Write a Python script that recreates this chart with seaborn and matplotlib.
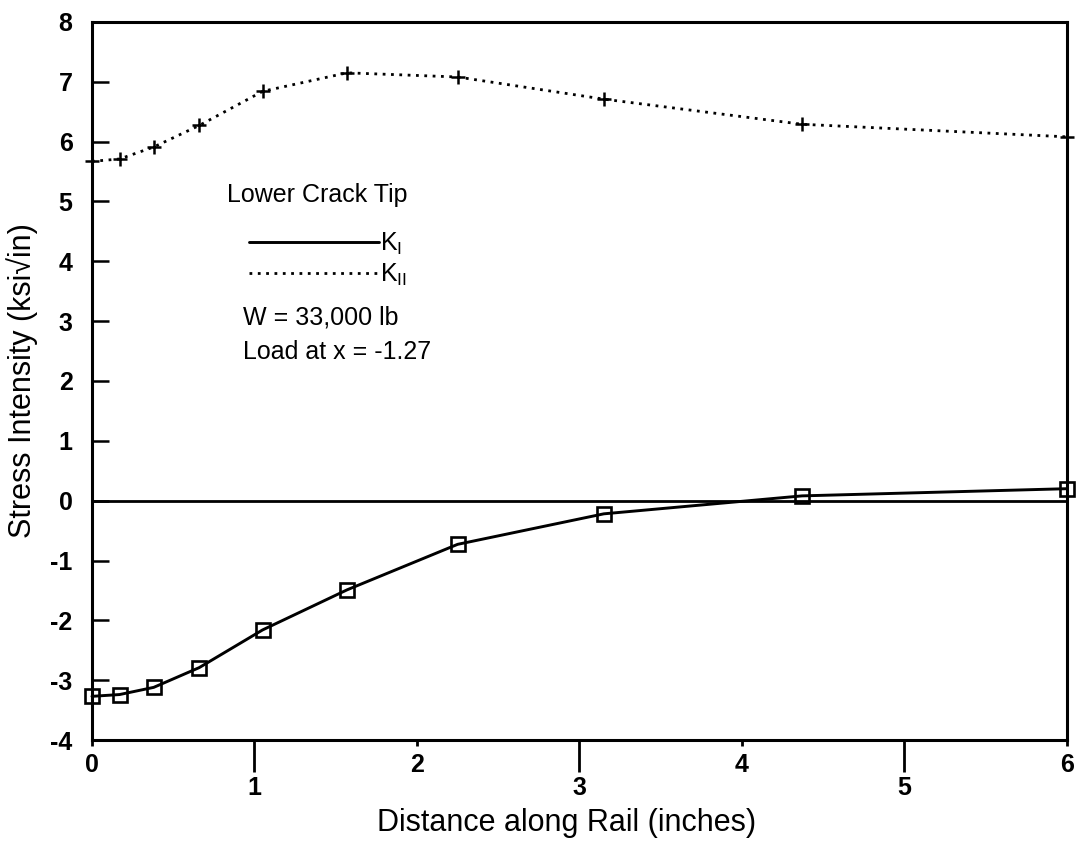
import seaborn as sns
import matplotlib.pyplot as plt
from matplotlib.lines import Line2D

# --- Data ---
distance = [0.0, 0.17, 0.38, 0.66, 1.05, 1.57, 2.25, 3.15, 4.37, 6.0]
k_one = [-3.27, -3.24, -3.12, -2.79, -2.16, -1.49, -0.73, -0.22, 0.08, 0.20]
k_two = [5.67, 5.71, 5.91, 6.27, 6.84, 7.15, 7.08, 6.71, 6.29, 6.08]
x_even_ticks = [0, 2, 4, 6]
x_odd_ticks = [1, 3, 5]
y_ticks = list(range(-4, 9))
legend_labels = [r'K$_\mathrm{I}$', r'K$_\mathrm{II}$']

# --- Global style ---
sns.set_theme(style="ticks")
plt.rcParams['font.family'] = ['Liberation Sans', 'DejaVu Sans']
plt.rcParams['mathtext.fontset'] = 'custom'
plt.rcParams['mathtext.rm'] = 'Liberation Sans'
plt.rcParams['text.color'] = 'black'
plt.rcParams['axes.labelcolor'] = 'black'
plt.rcParams['axes.edgecolor'] = 'black'
plt.rcParams['xtick.color'] = 'black'
plt.rcParams['ytick.color'] = 'black'

DOTTED = (0, (1, 2.0))

fig, ax = plt.subplots(figsize=(10.77, 8.44), dpi=100)
fig.subplots_adjust(left=0.0854, right=0.9907, top=0.974, bottom=0.1232)

# zero reference line
ax.axhline(0, color='black', lw=2, zorder=1)

# K_I : solid line with open squares
sns.lineplot(x=distance, y=k_one, ax=ax, color='black', lw=2.1,
             marker='s', markersize=10, markerfacecolor='none',
             markeredgecolor='black', markeredgewidth=1.9,
             estimator=None, sort=False, legend=False, clip_on=False, zorder=3)

# K_II : dotted line with plus markers
sns.lineplot(x=distance, y=k_two, ax=ax, color='black', lw=2.0,
             linestyle=DOTTED, marker='+', markersize=9.5,
             markeredgecolor='black', markeredgewidth=1.8,
             estimator=None, sort=False, legend=False, clip_on=False, zorder=3)

# Axes limits and ticks (odd x labels sit lower on longer ticks)
ax.set_xlim(0, 6)
ax.set_ylim(-4, 8)
ax.set_xticks(x_even_ticks)
ax.set_xticklabels([str(t) for t in x_even_ticks])
ax.set_xticks(x_odd_ticks, minor=True)
ax.set_xticklabels([str(t) for t in x_odd_ticks], minor=True)
ax.set_yticks(y_ticks)
ax.set_yticklabels([str(t) for t in y_ticks])

ax.tick_params(axis='x', which='major', direction='out', length=4, width=2,
               pad=5.5, labelsize=18, top=False)
ax.tick_params(axis='x', which='minor', direction='out', length=23, width=2,
               pad=3, labelsize=18, top=False)
ax.tick_params(axis='y', direction='in', length=12, width=1.8, pad=14,
               labelsize=18, left=True, right=False)
for lbl in ax.get_xticklabels(which='both') + ax.get_yticklabels():
    lbl.set_fontweight('bold')

for spine in ax.spines.values():
    spine.set_visible(True)
    spine.set_linewidth(2.2)

# Labels
ax.set_xlabel('Distance along Rail (inches)', fontsize=22)
ax.xaxis.set_label_coords(0.487, -0.0947)
ax.set_ylabel('Stress Intensity (ksi\u221ain)', fontsize=22)
ax.yaxis.set_label_coords(-0.055, 0.5)

# Legend block (in-plot annotation)
ax.text(0.1385, 0.759, 'Lower Crack Tip', transform=ax.transAxes,
        fontsize=18, ha='left', va='center')
handles = [Line2D([], [], color='black', lw=2.1),
           Line2D([], [], color='black', lw=2.0, linestyle=DOTTED)]
ax.legend(handles, legend_labels, loc='center left', bbox_to_anchor=(0.161, 0.669),
          frameon=False, handlelength=5.2, handletextpad=0.05, borderpad=0,
          borderaxespad=0, labelspacing=0.2, fontsize=18)
ax.text(0.155, 0.588, 'W = 33,000 lb', transform=ax.transAxes,
        fontsize=18, ha='left', va='center')
ax.text(0.155, 0.540, 'Load at x = -1.27', transform=ax.transAxes,
        fontsize=18, ha='left', va='center')

plt.savefig('out.png', dpi=100)
plt.close()
